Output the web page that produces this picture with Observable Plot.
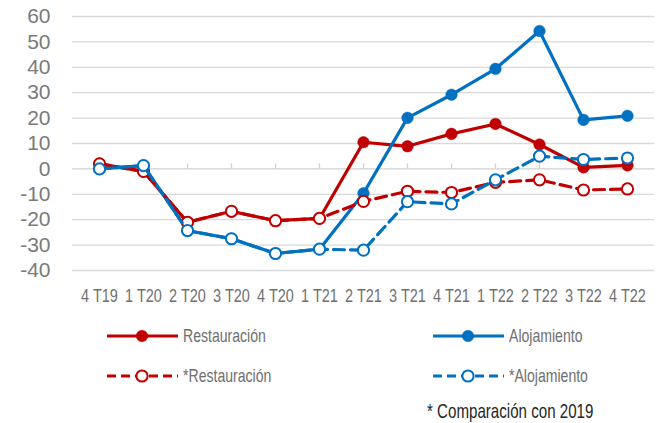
<!DOCTYPE html>
<html>
<head>
<meta charset="utf-8">
<script src="https://cdn.jsdelivr.net/npm/d3@7"></script>
<script src="https://cdn.jsdelivr.net/npm/@observablehq/plot@0.6"></script>
<style>
  html, body { margin: 0; padding: 0; background: #fff; }
  #wrap { position: relative; width: 662px; height: 423px; font-family: "Liberation Sans", Arial, sans-serif; }
  .leg { position: absolute; display: flex; align-items: center; white-space: nowrap; }
  .leg svg { margin-right: 4px; }
  .legtxt { display: inline-block; font-size: 18.5px; color: #6f6f6f; transform: scaleX(0.76); transform-origin: left center; }
  #note { position: absolute; left: 427px; top: 399px; font-size: 21px; line-height: 24px; color: #262626; white-space: nowrap; transform: scaleX(0.72); transform-origin: left center; }
</style>
</head>
<body>
<div id="wrap"></div>
<script>
const categories = ["4 T19","1 T20","2 T20","3 T20","4 T20","1 T21","2 T21","3 T21","4 T21","1 T22","2 T22","3 T22","4 T22"];
const restauracion     = [2, -1, -21, -16.7, -20.4, -19.5, 10.5, 8.9, 13.8, 17.7, 9.6, 0.6, 1.4];
const alojamiento      = [0, 1.3, -24.3, -27.5, -33.3, -31.6, -9.6, 20.1, 29.2, 39.4, 54.3, 19.3, 20.9];
const restauracion2019 = [2, -1, -21, -16.7, -20.4, -19.5, -12.8, -8.8, -9.3, -5.3, -4.3, -8.3, -7.9];
const alojamiento2019  = [0, 1.3, -24.3, -27.5, -33.3, -31.6, -32.0, -12.9, -13.8, -4.3, 5.0, 3.7, 4.3];
const yTicks = [-40, -30, -20, -10, 0, 10, 20, 30, 40, 50, 60];
const seriesNames = ["Restauración", "Alojamiento", "*Restauración", "*Alojamiento"];
const noteText = "* Comparación con 2019";

const RED = "#C00000", BLUE = "#0070C0";
const series = [
  {name: seriesNames[0], values: restauracion, color: RED, dashed: false},
  {name: seriesNames[1], values: alojamiento, color: BLUE, dashed: false},
  {name: seriesNames[2], values: restauracion2019, color: RED, dashed: true},
  {name: seriesNames[3], values: alojamiento2019, color: BLUE, dashed: true}
];
const DASH = "11,6";
const NARROW = 0.82;

const marks = [
  Plot.ruleY(yTicks.filter(d => d !== 0), {stroke: "#d9d9d9", strokeWidth: 1.3}),
  Plot.ruleY([0], {stroke: "#cfcfcf", strokeWidth: 1.3}),
  Plot.ruleX(categories, {x: d => d, y1: 0, y2: 0, insetTop: -5, stroke: "#cfcfcf", strokeWidth: 1.3})
];
for (const s of series) {
  const data = categories.map((c, i) => ({cat: c, v: s.values[i]}));
  marks.push(Plot.line(data, {x: "cat", y: "v", stroke: s.color, strokeWidth: 3.2,
    strokeDasharray: s.dashed ? DASH : null, strokeLinejoin: "round"}));
  if (s.dashed) {
    marks.push(Plot.dot(data, {x: "cat", y: "v", r: 5.6, fill: "white", stroke: s.color, strokeWidth: 2}));
  } else {
    marks.push(Plot.dot(data, {x: "cat", y: "v", r: 5.8, fill: s.color, stroke: s.color, strokeWidth: 0.5}));
  }
}

const chart = Plot.plot({
  width: 662,
  height: 310,
  marginLeft: 72,
  marginRight: 8,
  marginTop: 16,
  marginBottom: 40,
  style: {fontFamily: '"Liberation Sans", Arial, sans-serif', background: "white", overflow: "visible"},
  x: {type: "point", domain: categories, padding: 0.5, label: null, tickSize: 0, tickPadding: 20},
  y: {domain: [-40, 60], ticks: yTicks, label: null, tickSize: 0, tickPadding: 22, tickFormat: d => String(d)},
  marks: [
    ...marks,
    Plot.axisX({tickSize: 0, tickPadding: 19, fontSize: 17.7, fill: "#6f6f6f", label: null}),
    Plot.axisY({ticks: yTicks, tickSize: 0, tickPadding: 22, fontSize: 21, fill: "#7a7a7a", label: null, tickFormat: d => String(d)})
  ]
});
// condense x-axis text (Arial Narrow look); y-axis labels keep normal width
chart.querySelectorAll("text").forEach(t => {
  if (categories.includes(t.textContent.trim())) {
    const tr = t.getAttribute("transform") || "";
    t.setAttribute("transform", tr + ` scale(${NARROW},1)`);
  }
});
const wrap = document.getElementById("wrap");
wrap.appendChild(chart);

// legend
const legendPos = [
  {left: 107, top: 336}, {left: 433, top: 336},
  {left: 107, top: 376}, {left: 433, top: 376}
];
series.forEach((s, i) => {
  const p = legendPos[i];
  const div = document.createElement("div");
  div.className = "leg";
  div.style.left = p.left + "px";
  div.style.top = (p.top - 12) + "px";
  div.style.height = "24px";
  const ns = "http://www.w3.org/2000/svg";
  const svg = document.createElementNS(ns, "svg");
  svg.setAttribute("width", 72); svg.setAttribute("height", 24);
  const ln = document.createElementNS(ns, "line");
  ln.setAttribute("x1", 0); ln.setAttribute("x2", 71); ln.setAttribute("y1", 12); ln.setAttribute("y2", 12);
  ln.setAttribute("stroke", s.color); ln.setAttribute("stroke-width", 3.2);
  if (s.dashed) { ln.setAttribute("stroke-dasharray", "9,5"); }
  svg.appendChild(ln);
  const c = document.createElementNS(ns, "circle");
  c.setAttribute("cx", 35); c.setAttribute("cy", 12);
  c.setAttribute("r", s.dashed ? 5.6 : 5.8);
  c.setAttribute("fill", s.dashed ? "white" : s.color);
  c.setAttribute("stroke", s.color); c.setAttribute("stroke-width", s.dashed ? 2 : 0.5);
  svg.appendChild(c);
  div.appendChild(svg);
  const t = document.createElement("span");
  t.className = "legtxt";
  t.textContent = s.name;
  div.appendChild(t);
  wrap.appendChild(div);
});
const note = document.createElement("div");
note.id = "note";
note.textContent = noteText;
wrap.appendChild(note);
</script>
</body>
</html>
